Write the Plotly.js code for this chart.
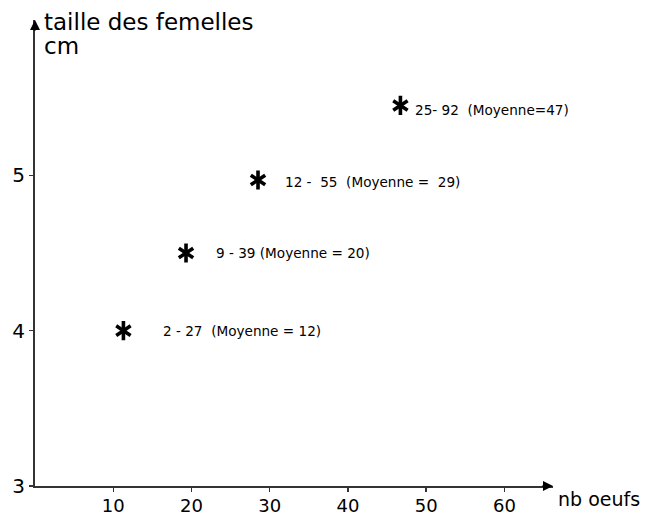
<!DOCTYPE html>
<html>
<head>
<meta charset="utf-8">
<script src="https://cdn.plot.ly/plotly-3.0.1.min.js"></script>
<style>html,body{margin:0;padding:0;background:#fff;}#chart{width:645px;height:516px;}</style>
</head>
<body>
<div id="chart"></div>
<script>
// Data
var nbOeufs = [11.3, 19.3, 28.5, 46.7];        // x: nombre d'oeufs (position of stars)
var tailleFemelles = [4.0, 4.5, 4.97, 5.45];   // y: taille des femelles (cm)
var pointLabels = ["2 - 27  (Moyenne = 12)", "9 - 39 (Moyenne = 20)", "12 -  55  (Moyenne =  29)", "25- 92  (Moyenne=47)"];
var xTickVals = [10, 20, 30, 40, 50, 60];
var yTickVals = [3, 4, 5];

var FONT = "DejaVu Sans, sans-serif";
var labelShift = [38, 28, 25, 13];
var labelYShift = [0, 0, -2, -5];

var starStyle = {size: 12, color: "#000", line: {width: 3.6, color: "#000"}};
var traces = [
  {x: nbOeufs, y: tailleFemelles, type: "scatter", mode: "markers", cliponaxis: false,
   marker: Object.assign({symbol: "y-up-open"}, starStyle), hoverinfo: "x+y"},
  {x: nbOeufs, y: tailleFemelles, type: "scatter", mode: "markers", cliponaxis: false,
   marker: Object.assign({symbol: "y-down-open"}, starStyle), hoverinfo: "skip"}
];

var annotations = pointLabels.map(function (t, i) {
  return {x: nbOeufs[i], y: tailleFemelles[i], xref: "x", yref: "y", text: t, showarrow: false,
    xanchor: "left", yanchor: "middle", xshift: labelShift[i], yshift: labelYShift[i],
    font: {family: FONT, size: 13.6, color: "#000"}};
});
// axis titles
annotations.push({xref: "paper", yref: "paper", x: 0, y: 1, xshift: 7, yshift: -2, xanchor: "left", yanchor: "middle",
  showarrow: false, text: "taille des femelles", font: {family: FONT, size: 23, color: "#000"}});
annotations.push({xref: "paper", yref: "paper", x: 0, y: 1, xshift: 7, yshift: -26, xanchor: "left", yanchor: "middle",
  showarrow: false, text: "cm", font: {family: FONT, size: 23, color: "#000"}});
annotations.push({xref: "paper", yref: "paper", x: 1, y: 0, xshift: 3, yshift: -13, xanchor: "left", yanchor: "middle",
  showarrow: false, text: "nb oeufs", font: {family: FONT, size: 19, color: "#000"}});
// arrow heads at axis ends
annotations.push({xref: "paper", yref: "paper", x: 1, y: 0, ax: -12, ay: 0, showarrow: true, arrowhead: 2,
  arrowsize: 1, arrowwidth: 2, arrowcolor: "#000", text: ""});
annotations.push({xref: "paper", yref: "paper", x: 0, y: 1, ax: 0, ay: 12, showarrow: true, arrowhead: 2,
  arrowsize: 1, arrowwidth: 2, arrowcolor: "#000", text: ""});

var layout = {
  width: 645, height: 516,
  margin: {l: 35, r: 92, t: 20, b: 30},
  paper_bgcolor: "#fff", plot_bgcolor: "#fff",
  showlegend: false,
  font: {family: FONT, size: 19, color: "#000"},
  xaxis: {range: [0, 66.2], showgrid: false, zeroline: false, showline: true, linecolor: "#333", linewidth: 2,
    tickmode: "array", tickvals: xTickVals, ticks: "outside", ticklen: 4, tickwidth: 1.5, tickcolor: "#333",
    ticklabelstandoff: -2,
    tickfont: {family: FONT, size: 18, color: "#000"}},
  yaxis: {range: [3, 6], showgrid: false, zeroline: false, showline: true, linecolor: "#333", linewidth: 2,
    tickmode: "array", tickvals: yTickVals, ticks: "outside", ticklen: 4, tickwidth: 1.5, tickcolor: "#333",
    tickfont: {family: FONT, size: 20, color: "#000"}},
  annotations: annotations
};

Plotly.newPlot("chart", traces, layout, {displayModeBar: false, staticPlot: true});
</script>
</body>
</html>
